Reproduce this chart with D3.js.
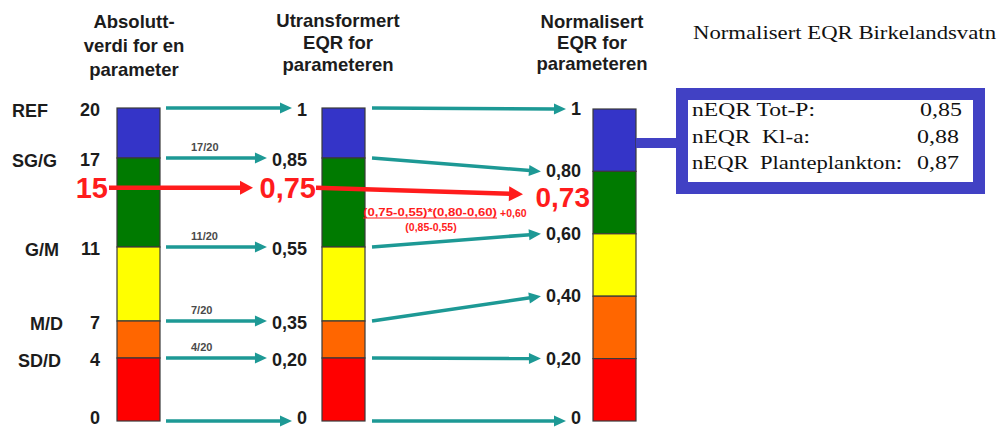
<!DOCTYPE html>
<html><head><meta charset="utf-8">
<script src="https://cdn.jsdelivr.net/npm/d3@7"></script>
<style>
html,body{margin:0;padding:0;background:#fff;}
svg{display:block;}
</style>
</head><body>
<svg id="chart" width="999" height="428"></svg>
<script>
// ---- data ----
const categories = ["REF", "SG/G", "G/M", "M/D", "SD/D"];
const absValues = [20, 17, 11, 7, 4, 0];
const eqrValues = [1, 0.85, 0.55, 0.35, 0.20, 0];
const normValues = [1, 0.80, 0.60, 0.40, 0.20, 0];
const fractionLabels = ["17/20", "11/20", "7/20", "4/20"];
const classColors = ["#3434c8", "#007a00", "#ffff00", "#ff6600", "#ff0000"];
const exampleAbs = 15;
const exampleEqr = 0.75;
const exampleNorm = 0.73;
const headers = [
  ["Absolutt-", "verdi for en", "parameter"],
  ["Utransformert", "EQR for", "parameteren"],
  ["Normalisert", "EQR for", "parameteren"]
];
const boxTitle = "Normalisert EQR Birkelandsvatn";
const boxNames = ["nEQR Tot-P:", "nEQR  Kl-a:", "nEQR  Planteplankton:"];
const boxValues = [0.85, 0.88, 0.87];
const formulaTop = "(0,75-0,55)*(0,80-0,60)";
const formulaPlus = "+0,60";
const formulaBottom = "(0,85-0,55)";

// ---- layout ----
const classY = [108, 158, 247, 321, 358, 421];
const yAbs = d3.scaleLinear().domain(absValues).range(classY);
const yEqr = d3.scaleLinear().domain(eqrValues).range(classY);
const yNorm = d3.scaleLinear().domain([0, 1]).range([421, 109]);
const barW = 43;
const col1X = 117, col2X = 322, col3X = 593;
const catLabelX = [12, 12, 25, 30, 18];
const teal = "#1d9995";
const red = "#ff1c1c";
const boxBlue = "#4141c4";
const labelY = y => Math.min(y + 2, 418);

const loc = d3.formatLocale({decimal: ",", thousands: " ", grouping: [3], currency: ["", " kr"]});
const f2 = loc.format(".2f");
const fmtV = v => (v === 0 || v === 1) ? String(v) : f2(v);

const svg = d3.select("#chart");
const sans = "'Liberation Sans', Arial, sans-serif";
const serif = "'Liberation Serif', 'Times New Roman', serif";

function arrow(x1, y1, x2, y2, color, w, hl, hw) {
  const ang = Math.atan2(y2 - y1, x2 - x1);
  const bx = x2 - hl * Math.cos(ang), by = y2 - hl * Math.sin(ang);
  svg.append("line").attr("x1", x1).attr("y1", y1).attr("x2", bx + Math.cos(ang)).attr("y2", by + Math.sin(ang))
    .attr("stroke", color).attr("stroke-width", w);
  const px = -Math.sin(ang) * hw / 2, py = Math.cos(ang) * hw / 2;
  svg.append("path").attr("d", `M${x2},${y2}L${bx + px},${by + py}L${bx - px},${by - py}Z`).attr("fill", color);
}

// ---- headers ----
const headerX = [134, 338, 592];
const headerY = [[21, 45, 69], [20, 42, 64], [21, 42, 63]];
headers.forEach((lines, i) => {
  lines.forEach((t, j) => {
    svg.append("text").attr("x", headerX[i]).attr("y", headerY[i][j])
      .attr("text-anchor", "middle").attr("dominant-baseline", "central")
      .attr("font-family", sans).attr("font-weight", "bold").attr("font-size", 18.5)
      .attr("fill", "#1c1c1c").text(t);
  });
});

// ---- bars ----
function drawBar(x, vals, scale) {
  const segs = d3.range(vals.length - 1).map(i => ({a: vals[i], b: vals[i + 1], c: classColors[i]}));
  svg.append("g").selectAll("rect").data(segs).join("rect")
    .attr("x", x).attr("width", barW)
    .attr("y", d => scale(d.a)).attr("height", d => scale(d.b) - scale(d.a))
    .attr("fill", d => d.c).attr("stroke", "#3a3a3a").attr("stroke-width", 1.2);
}
drawBar(col1X, absValues, yAbs);
drawBar(col2X, eqrValues, yEqr);
drawBar(col3X, normValues, yNorm);

// ---- left labels ----
categories.forEach((c, i) => {
  svg.append("text").attr("x", catLabelX[i]).attr("y", yAbs(absValues[i]) + 3)
    .attr("dominant-baseline", "central").attr("font-family", sans).attr("font-weight", "bold")
    .attr("font-size", 18).attr("fill", "#1c1c1c").text(c);
});
absValues.forEach(v => {
  svg.append("text").attr("x", 100).attr("y", labelY(yAbs(v))).attr("text-anchor", "end")
    .attr("dominant-baseline", "central").attr("font-family", sans).attr("font-weight", "bold")
    .attr("font-size", 18).attr("fill", "#1c1c1c").text(v);
});

// ---- middle labels + arrows from left ----
eqrValues.forEach((v, i) => {
  const y = yEqr(v);
  const t = svg.append("text").attr("x", 307).attr("y", labelY(y)).attr("text-anchor", "end")
    .attr("dominant-baseline", "central").attr("font-family", sans).attr("font-weight", "bold")
    .attr("font-size", 18).attr("fill", "#1c1c1c").text(fmtV(v));
  const tw = t.node().getComputedTextLength();
  arrow(166, y, 307 - tw - 5, y, teal, 3.5, 12, 11);
});
fractionLabels.forEach((f, i) => {
  svg.append("text").attr("x", 191).attr("y", yEqr(eqrValues[i + 1]) - 11)
    .attr("dominant-baseline", "central").attr("font-family", sans).attr("font-weight", "bold")
    .attr("font-size", 11).attr("fill", "#4a4a4a").text(f);
});

// ---- right labels + arrows from middle ----
normValues.forEach((v, i) => {
  const y = yNorm(v);
  const t = svg.append("text").attr("x", 581).attr("y", Math.min(y, 418)).attr("text-anchor", "end")
    .attr("dominant-baseline", "central").attr("font-family", sans).attr("font-weight", "bold")
    .attr("font-size", 18).attr("fill", "#1c1c1c").text(fmtV(v));
  const tw = t.node().getComputedTextLength();
  arrow(372, yEqr(eqrValues[i]), 581 - tw - 5, y, teal, 3.5, 12, 11);
});

// ---- red example ----
const yEx = yAbs(exampleAbs);
svg.append("text").attr("x", 108).attr("y", yEx).attr("text-anchor", "end")
  .attr("dominant-baseline", "central").attr("font-family", sans).attr("font-weight", "bold")
  .attr("font-size", 29).attr("fill", red).text(exampleAbs);
arrow(109, yEx, 253, yEx, red, 4.5, 13, 14);
svg.append("text").attr("x", 316).attr("y", yEqr(exampleEqr)).attr("text-anchor", "end")
  .attr("dominant-baseline", "central").attr("font-family", sans).attr("font-weight", "bold")
  .attr("font-size", 29).attr("fill", red).text(fmtV(exampleEqr));
arrow(316, yEqr(exampleEqr), 523, yNorm(exampleNorm) + 1, red, 4.5, 14, 15);
svg.append("text").attr("x", 590).attr("y", yNorm(exampleNorm) + 4).attr("text-anchor", "end")
  .attr("dominant-baseline", "central").attr("font-family", sans).attr("font-weight", "bold")
  .attr("font-size", 28).attr("fill", red).text(f2(exampleNorm));

// formula
svg.append("text").attr("x", 363).attr("y", 212).attr("dominant-baseline", "central")
  .attr("font-family", sans).attr("font-weight", "bold").attr("font-size", 10.5).attr("fill", red)
  .attr("textLength", 134).attr("lengthAdjust", "spacingAndGlyphs").text(formulaTop);
svg.append("line").attr("x1", 363).attr("x2", 497).attr("y1", 218).attr("y2", 218)
  .attr("stroke", red).attr("stroke-width", 1);
svg.append("text").attr("x", 500).attr("y", 213).attr("dominant-baseline", "central")
  .attr("font-family", sans).attr("font-weight", "bold").attr("font-size", 10.5).attr("fill", red)
  .text(formulaPlus);
svg.append("text").attr("x", 431).attr("y", 227).attr("text-anchor", "middle").attr("dominant-baseline", "central")
  .attr("font-family", sans).attr("font-weight", "bold").attr("font-size", 10.5).attr("fill", red)
  .text(formulaBottom);

// ---- right box ----
svg.append("text").attr("x", 693).attr("y", 32).attr("dominant-baseline", "central")
  .attr("font-family", serif).attr("font-size", 19).attr("fill", "#111")
  .attr("textLength", 303).attr("lengthAdjust", "spacingAndGlyphs").text(boxTitle);
svg.append("rect").attr("x", 636).attr("y", 138).attr("width", 44).attr("height", 10).attr("fill", boxBlue);
svg.append("rect").attr("x", 682).attr("y", 94).attr("width", 297).attr("height", 94)
  .attr("fill", "#fff").attr("stroke", boxBlue).attr("stroke-width", 12);
const rowY = [110, 137, 163];
const nameW = [123, 118, 210];
boxNames.forEach((n, i) => {
  svg.append("text").attr("x", 692).attr("y", rowY[i]).attr("dominant-baseline", "central")
    .attr("font-family", serif).attr("font-size", 18).attr("fill", "#111")
    .attr("textLength", nameW[i]).attr("lengthAdjust", "spacingAndGlyphs")
    .attr("xml:space", "preserve").style("white-space", "pre").text(n);
  svg.append("text").attr("x", i === 0 ? 962 : 959).attr("y", rowY[i]).attr("text-anchor", "end")
    .attr("dominant-baseline", "central")
    .attr("font-family", serif).attr("font-size", 18).attr("fill", "#111")
    .attr("textLength", 42).attr("lengthAdjust", "spacingAndGlyphs").text(f2(boxValues[i]));
});
</script>
</body></html>
